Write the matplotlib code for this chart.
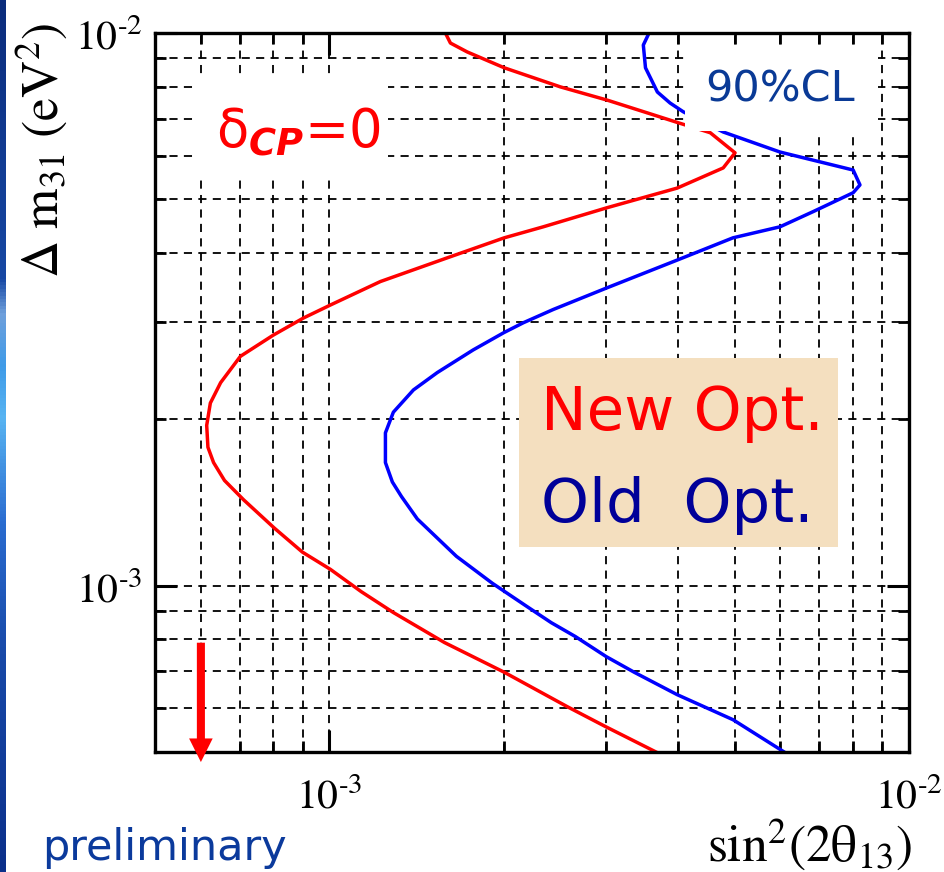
import numpy as np
import matplotlib
matplotlib.use("Agg")
import matplotlib.pyplot as plt
from matplotlib.patches import Rectangle
from matplotlib.colors import LinearSegmentedColormap
from matplotlib.ticker import LogLocator, NullFormatter
import matplotlib.transforms as mtransforms

plt.rcParams["mathtext.fontset"] = "stix"
plt.rcParams["font.family"] = ["DejaVu Sans"]

# 90% CL sensitivity contours: sin^2(2 theta13) vs delta m^2_31 [eV^2]
new_sin2 = [1.585e-3, 1.617e-3, 1.729e-3, 2.003e-3, 2.502e-3, 3.015e-3, 3.534e-3,
            3.998e-3, 4.54e-3, 5.01e-3, 4.78e-3, 3.98e-3, 3.015e-3, 2.339e-3,
            2.003e-3, 1.598e-3, 1.224e-3, 1.004e-3, 9.02e-4, 8.00e-4, 7.02e-4,
            6.49e-4, 6.23e-4, 6.14e-4, 6.17e-4, 6.31e-4, 6.59e-4, 7.11e-4,
            8.04e-4, 8.98e-4, 1.004e-3, 1.135e-3, 1.289e-3, 1.579e-3, 2.003e-3,
            2.572e-3, 3.003e-3, 3.66e-3]
new_dm2 = [1.0e-2, 9.59e-3, 9.24e-3, 8.65e-3, 7.99e-3, 7.56e-3, 7.17e-3,
           6.88e-3, 6.60e-3, 6.07e-3, 5.70e-3, 5.24e-3, 4.83e-3, 4.46e-3,
           4.26e-3, 3.92e-3, 3.55e-3, 3.22e-3, 3.05e-3, 2.84e-3, 2.60e-3,
           2.33e-3, 2.14e-3, 1.95e-3, 1.78e-3, 1.67e-3, 1.55e-3, 1.43e-3,
           1.27e-3, 1.15e-3, 1.07e-3, 9.75e-4, 8.94e-4, 7.89e-4, 6.97e-4,
           6.04e-4, 5.55e-4, 5.0e-4]

old_sin2 = [3.56e-3, 3.48e-3, 3.51e-3, 3.68e-3, 3.87e-3, 4.08e-3, 4.78e-3,
            5.99e-3, 8.01e-3, 8.23e-3, 8.01e-3, 6.83e-3, 5.99e-3, 4.97e-3,
            4.00e-3, 3.015e-3, 2.433e-3, 2.16e-3, 2.00e-3, 1.77e-3, 1.535e-3,
            1.396e-3, 1.289e-3, 1.249e-3, 1.249e-3, 1.284e-3, 1.331e-3, 1.418e-3,
            1.656e-3, 1.91e-3, 2.194e-3, 2.414e-3, 2.656e-3, 3.003e-3, 3.357e-3,
            3.98e-3, 4.97e-3, 6.09e-3]
old_dm2 = [1.0e-2, 9.51e-3, 8.65e-3, 7.82e-3, 7.47e-3, 7.20e-3, 6.62e-3,
           6.09e-3, 5.65e-3, 5.31e-3, 5.14e-3, 4.75e-3, 4.46e-3, 4.26e-3,
           3.89e-3, 3.46e-3, 3.16e-3, 2.99e-3, 2.87e-3, 2.67e-3, 2.43e-3,
           2.26e-3, 2.06e-3, 1.89e-3, 1.67e-3, 1.54e-3, 1.45e-3, 1.32e-3,
           1.13e-3, 1.01e-3, 9.16e-4, 8.57e-4, 8.09e-4, 7.44e-4, 6.97e-4,
           6.35e-4, 5.72e-4, 5.0e-4]

# sensitivity limit marked with the arrow
limit_sin2 = 6e-4

x_ticks = [1e-3, 1e-2]
x_tick_labels = [r"$10^{\text{-}3}$", r"$10^{\text{-}2}$"]
y_ticks = [1e-3, 1e-2]
y_tick_labels = [r"$10^{\text{-}3}$", r"$10^{\text{-}2}$"]

W, H = 944, 872


def fpos(px, py):
    return px / W, 1 - py / H


fig = plt.figure(figsize=(W / 100, H / 100), dpi=100, facecolor="white")

# thin slide-background strip on the left edge
strip = fig.add_axes([0, 0, 5.5 / W, 1])
cmap = LinearSegmentedColormap.from_list(
    "slide", [(0.0, "#0b2c7c"), (0.32, "#1748a4"), (0.36, "#6fa0dc"),
              (0.42, "#3f9be8"), (0.48, "#58b4f2"), (0.6, "#2a6cd0"),
              (0.75, "#1849a8"), (1.0, "#0b2f8a")])
strip.imshow(np.linspace(0, 1, 256)[:, None], aspect="auto", cmap=cmap,
             extent=[0, 1, 0, 1], origin="upper")
strip.set_axis_off()

ax = fig.add_axes([155 / W, 120 / H, 754 / W, 719 / H])
ax.set_xscale("log")
ax.set_yscale("log")
ax.set_xlim(5e-4, 1e-2)
ax.set_ylim(5e-4, 1e-2)

ax.plot(new_sin2, new_dm2, color="#ff0000", lw=2.5, zorder=2)
ax.plot(old_sin2, old_dm2, color="#0000ff", lw=2.5, zorder=2)

ax.grid(True, which="both", color="black", linestyle=(0, (4.5, 3.5)), linewidth=1.3)

ax.set_xticks(x_ticks, x_tick_labels, fontsize=30)
ax.set_yticks(y_ticks, y_tick_labels, fontsize=30)
for axis in (ax.xaxis, ax.yaxis):
    axis.set_minor_locator(LogLocator(base=10, subs=np.arange(2, 10)))
    axis.set_minor_formatter(NullFormatter())
ax.tick_params(which="both", direction="in", top=True, right=True, colors="black")
ax.tick_params(which="major", length=16, width=2.2)
ax.tick_params(which="minor", length=8, width=2.0)
ax.tick_params(axis="x", which="major", pad=17)
ax.tick_params(axis="y", which="major", pad=9)
for sp in ax.spines.values():
    sp.set_linewidth(2.4)

# white panels behind the annotations, and the legend panel
for (x0, x1, y0, y1, fc) in [(198, 388, 76, 177, "white"),
                             (685, 878, 47, 131, "white"),
                             (519, 838, 358, 547, "#f4dfbf")]:
    fx0 = (x0 - 155) / 754
    fx1 = (x1 - 155) / 754
    fy0 = (752 - y1) / 719
    fy1 = (752 - y0) / 719
    ax.add_patch(Rectangle((fx0, fy0), fx1 - fx0, fy1 - fy0, transform=ax.transAxes,
                           facecolor=fc, edgecolor="none", zorder=3))

# arrow marking the limit on sin^2(2 theta13)
trans = mtransforms.blended_transform_factory(ax.transData, ax.transAxes)
ax.annotate("", xy=(limit_sin2, -0.014), xytext=(limit_sin2, 0.152),
            xycoords=trans, textcoords=trans, annotation_clip=False,
            arrowprops=dict(facecolor="#ff0000", edgecolor="none", width=5.8,
                            headwidth=17, headlength=17, shrink=0), zorder=5)

fig.text(*fpos(216, 148), r"$\mathrm{\delta}_{\mathbfit{CP}}$=0", color="#ff0000",
         fontsize=38, math_fontfamily="dejavusans", ha="left", va="baseline")
fig.text(*fpos(780, 89), "90%CL", color="#0a3a96", fontsize=31, ha="center", va="center")
fig.text(*fpos(541, 430), "New Opt.", color="#ff0000", fontsize=44, ha="left", va="baseline")
fig.text(*fpos(541, 522), "Old  Opt.", color="#000099", fontsize=44, ha="left", va="baseline")
fig.text(*fpos(42, 860), "preliminary", color="#0b3a9c", fontsize=31, ha="left", va="baseline")

fig.text(*fpos(912, 845), r"$\mathrm{sin}^2(2\mathrm{\theta}_{13})$", fontsize=37,
         ha="right", va="center")
fig.text(*fpos(42, 150), r"$\Delta\ \mathrm{m}_{31}\ (\mathrm{eV}^2)$", fontsize=37,
         rotation=90, ha="center", va="center")

fig.savefig("out.png", dpi=100, facecolor="white")
